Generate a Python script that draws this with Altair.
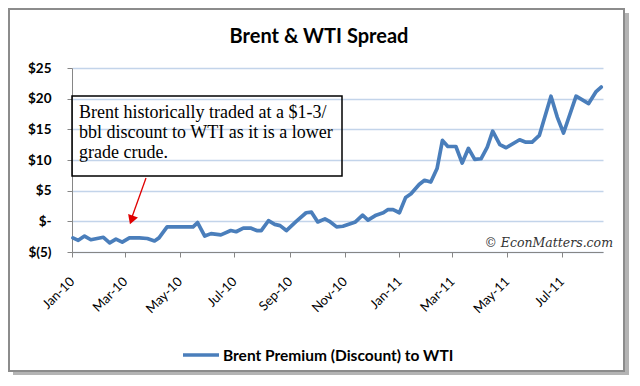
import altair as alt
import pandas as pd

# ---- data ----
dates = [
    "2010-01-02", "2010-01-08", "2010-01-15", "2010-01-22", "2010-02-05", "2010-02-12",
    "2010-02-19", "2010-02-26", "2010-03-06", "2010-03-17", "2010-03-26", "2010-04-03",
    "2010-04-08", "2010-04-17", "2010-05-16", "2010-05-21", "2010-05-29", "2010-06-05",
    "2010-06-16", "2010-06-27", "2010-07-03", "2010-07-11", "2010-07-19", "2010-07-26",
    "2010-07-31", "2010-08-08", "2010-08-15", "2010-08-21", "2010-08-28", "2010-09-08",
    "2010-09-19", "2010-09-25", "2010-10-02", "2010-10-10", "2010-10-15", "2010-10-23",
    "2010-10-30", "2010-11-13", "2010-11-21", "2010-11-27", "2010-12-06", "2010-12-14",
    "2010-12-19", "2010-12-25", "2011-01-01", "2011-01-08", "2011-01-14", "2011-01-23",
    "2011-01-29", "2011-02-05", "2011-02-12", "2011-02-18", "2011-02-24", "2011-03-05",
    "2011-03-12", "2011-03-19", "2011-03-26", "2011-04-02", "2011-04-09", "2011-04-15",
    "2011-04-23", "2011-04-30", "2011-05-15", "2011-05-22", "2011-05-29", "2011-06-06",
    "2011-06-19", "2011-06-26", "2011-07-03", "2011-07-17", "2011-07-31", "2011-08-08",
    "2011-08-14",
]
spread = [
    -2.7, -3.1, -2.4, -3.0, -2.6, -3.5,
    -2.9, -3.4, -2.7, -2.7, -2.8, -3.2,
    -2.7, -0.9, -0.9, -0.2, -2.4, -2.0,
    -2.2, -1.5, -1.7, -1.1, -1.1, -1.5,
    -1.5, 0.1, -0.5, -0.7, -1.5, 0.0,
    1.4, 1.5, -0.1, 0.4, 0.0, -0.9,
    -0.8, -0.1, 1.0, 0.2, 1.0, 1.4,
    1.9, 1.9, 1.4, 3.9, 4.5, 6.0,
    6.7, 6.4, 8.6, 13.2, 12.2, 12.2,
    9.5, 11.9, 10.1, 10.2, 12.1, 14.7,
    12.5, 12.0, 13.3, 12.9, 12.9, 14.0,
    20.4, 17.0, 14.4, 20.4, 19.2, 21.1,
    21.9,
]
series_name = "Brent Premium (Discount) to WTI"
y_ticks = [-5, 0, 5, 10, 15, 20, 25]
x_tick_months = [(2010, 1), (2010, 3), (2010, 5), (2010, 7), (2010, 9), (2010, 11),
                 (2011, 1), (2011, 3), (2011, 5), (2011, 7)]
x_domain = [(2010, 1, 1), (2011, 8, 16)]
title_text = "Brent & WTI Spread"
note_lines = ["Brent historically traded at a $1-3/",
              "bbl discount to WTI as it is a lower",
              "grade crude."]
credit_text = "\u00a9 EconMatters.com"

df = pd.DataFrame({"date": dates, "spread": spread, "series": series_name})
one = pd.DataFrame({"k": [0]})

BLUE = "#4a7ebb"
GRAY = "#868686"
RED = "#e00000"

x_enc = alt.X(
    "date:T",
    scale=alt.Scale(
        type="utc",
        domain=[alt.DateTime(year=y, month=m, date=d, utc=True) for (y, m, d) in x_domain],
    ),
    axis=alt.Axis(
        title=None,
        values=[alt.DateTime(year=y, month=m, date=1, utc=True) for (y, m) in x_tick_months],
        format="%b-%y",
        labelAngle=-45,
        labelAlign="right",
        labelBaseline="middle",
        labelPadding=22,
        labelFont="Lato",
        labelFontSize=13,
        labelColor="#000000",
        tickSize=5,
        tickColor=GRAY,
        domainColor=GRAY,
        grid=False,
    ),
)
y_enc = alt.Y(
    "spread:Q",
    scale=alt.Scale(domain=[-5, 25], nice=False, zero=False),
    axis=alt.Axis(
        title=None,
        values=y_ticks,
        labelExpr="datum.value < 0 ? '$(' + abs(datum.value) + ')' : (datum.value == 0 ? '$-' : '$' + datum.value)",
        labelFont="Lato",
        labelFontWeight="bold",
        labelFontSize=13.5,
        labelColor="#000000",
        labelPadding=16,
        tickSize=5,
        tickColor=GRAY,
        domainColor=GRAY,
        grid=True,
        gridColor="#c3d4ea",
        gridWidth=1.5,
    ),
)

line = alt.Chart(df).mark_line(color=BLUE, strokeWidth=3.7, strokeJoin="round", strokeCap="round").encode(
    x=x_enc, y=y_enc
)

# frame and shadow
frame = alt.Chart(one).mark_rect(fill="transparent", stroke="#8c8c8c", strokeWidth=2).encode(
    x=alt.value(-63), x2=alt.value(552), y=alt.value(-59), y2=alt.value(303)
)
shadow_r = alt.Chart(one).mark_rect(color="#b4b4b4").encode(
    x=alt.value(553), x2=alt.value(557), y=alt.value(-55), y2=alt.value(307)
)
shadow_b = alt.Chart(one).mark_rect(color="#b4b4b4").encode(
    x=alt.value(-59), x2=alt.value(557), y=alt.value(304), y2=alt.value(307)
)

title = alt.Chart(one).mark_text(
    font="Lato", fontSize=20, fontWeight="bold", align="center", baseline="alphabetic", color="#000000"
).encode(x=alt.value(247), y=alt.value(-25), text=alt.value(title_text))

# annotation
box = alt.Chart(one).mark_rect(fill="transparent", stroke="#000000", strokeWidth=1.5).encode(
    x=alt.value(0), x2=alt.value(270), y=alt.value(28), y2=alt.value(108)
)
note = alt.Chart(one).mark_text(
    font="Liberation Serif", fontSize=18, lineHeight=20, align="left", baseline="alphabetic", color="#000000"
).encode(x=alt.value(7), y=alt.value(50), text=alt.value(note_lines))
arrow_line = alt.Chart(one).mark_rule(color=RED, strokeWidth=1.3).encode(
    x=alt.value(74), y=alt.value(110), x2=alt.value(60), y2=alt.value(149)
)
arrow_head = alt.Chart(one).mark_point(
    shape="triangle-down", filled=True, color=RED, size=110, angle=20, opacity=1
).encode(x=alt.value(59.5), y=alt.value(152))

credit = alt.Chart(one).mark_text(
    font="DejaVu Serif", fontSize=12.5, fontStyle="italic", align="right", baseline="alphabetic", color="#333333"
).encode(x=alt.value(541), y=alt.value(179), text=alt.value(credit_text))

# legend
leg_line = alt.Chart(one).mark_rule(color=BLUE, strokeWidth=3.5).encode(
    x=alt.value(111), x2=alt.value(147), y=alt.value(287)
)
leg_text = alt.Chart(one).mark_text(
    font="Lato", fontSize=15.5, fontWeight="bold", align="left", baseline="middle", color="#000000"
).encode(x=alt.value(151), y=alt.value(288), text=alt.value(series_name))

chart = alt.layer(
    shadow_r, shadow_b, frame, box, note, arrow_line, arrow_head, line, credit, title, leg_line, leg_text
).properties(
    width=531,
    height=184,
    padding={"left": 64, "top": 60, "right": 29, "bottom": 126},
    autosize=alt.AutoSizeParams(type="none"),
    background="#ffffff",
).configure_view(strokeWidth=0)

chart.save("out.html", embed_options={"renderer": "svg", "actions": False})
